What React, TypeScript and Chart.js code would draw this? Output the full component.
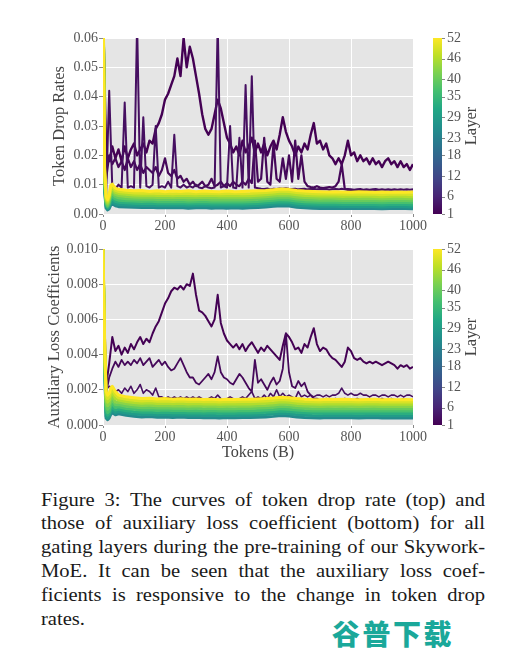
import React, { useEffect, useRef } from "react";
import { Chart, registerables } from "chart.js";

Chart.register(...registerables);
Chart.defaults.font.family = "'Liberation Serif', 'Times New Roman', serif";

// ---------- shared x positions (tokens, B) ----------
const tokens10 = [
  0,
  10, 20, 30, 40, 50, 60, 70, 80, 90, 100,
  110, 120, 130, 140, 150, 160, 170, 180, 190, 200,
  210, 220, 230, 240, 250, 260, 270, 280, 290, 300,
  310, 320, 330, 340, 350, 360, 370, 380, 390, 400,
  410, 420, 430, 440, 450, 460, 470, 480, 490, 500,
  510, 520, 530, 540, 550, 560, 570, 580, 590, 600,
  610, 620, 630, 640, 650, 660, 670, 680, 690, 700,
  710, 720, 730, 740, 750, 760, 770, 780, 790, 800,
  810, 820, 830, 840, 850, 860, 870, 880, 890, 900,
  910, 920, 930, 940, 950, 960, 970, 980, 990, 1000,
];

const bandTokens = [
  0, 5, 10, 15, 20, 25, 30, 40, 50,
  75, 100, 125, 150, 175, 200, 225, 250, 275, 300,
  325, 350, 375, 400, 425, 450, 475, 500, 525, 550,
  575, 600, 625, 650, 675, 700, 725, 750, 775, 800,
  825, 850, 875, 900, 925, 950, 975, 1000,
];

const xTicks = [0, 200, 400, 600, 800, 1000];
const colorbarTicks = [1, 6, 12, 18, 23, 29, 35, 40, 46, 52];
const bandLayers = [52, 49, 46, 43, 40, 37, 33, 29, 25];

// ---------- token drop rate (top) ----------
const dropL1 = [
  0.07,
  0.021, 0.018, 0.023, 0.019, 0.022, 0.018, 0.023, 0.019, 0.022, 0.024,
  0.020, 0.022, 0.024, 0.021, 0.025, 0.024, 0.029, 0.031, 0.034, 0.039,
  0.041, 0.044, 0.047, 0.053, 0.047, 0.060, 0.050, 0.057, 0.053, 0.047,
  0.041, 0.034, 0.029, 0.027, 0.029, 0.034, 0.039, 0.036, 0.031, 0.026,
  0.024, 0.021, 0.023, 0.020, 0.025, 0.021, 0.023, 0.026, 0.021, 0.024,
  0.021, 0.024, 0.020, 0.023, 0.025, 0.022, 0.027, 0.033, 0.028, 0.025,
  0.023, 0.020, 0.023, 0.021, 0.024, 0.022, 0.027, 0.031, 0.024, 0.025,
  0.022, 0.024, 0.020, 0.019, 0.017, 0.019, 0.017, 0.020, 0.025, 0.020,
  0.021, 0.018, 0.020, 0.018, 0.019, 0.017, 0.019, 0.017, 0.018, 0.016,
  0.018, 0.019, 0.017, 0.018, 0.016, 0.018, 0.016, 0.017, 0.015, 0.017,
];

const dropL2 = [
  0.07,
  0.012, 0.020, 0.017, 0.019, 0.016, 0.018, 0.015, 0.019, 0.016, 0.018,
  0.015, 0.017, 0.014, 0.016, 0.015, 0.014, 0.016, 0.013, 0.015, 0.019,
  0.014, 0.013, 0.015, 0.012, 0.013, 0.011, 0.012, 0.010, 0.011, 0.0095,
  0.010, 0.011, 0.0095, 0.010, 0.012, 0.0095, 0.010, 0.011, 0.0095, 0.0105,
  0.0095, 0.011, 0.010, 0.0095, 0.011, 0.010, 0.012, 0.0105, 0.025, 0.011,
  0.012, 0.026, 0.011, 0.010, 0.024, 0.012, 0.011, 0.019, 0.012, 0.020,
  0.011, 0.025, 0.012, 0.020, 0.011, 0.0095, 0.0092, 0.009, 0.0095, 0.009,
  0.0088, 0.009, 0.0092, 0.009, 0.0095, 0.011, 0.017, 0.0085, 0.0082, 0.0080,
  0.0079, 0.0078, 0.0079, 0.0078, 0.0077, 0.0078, 0.0077, 0.0078, 0.0077, 0.0076,
  0.0077, 0.0076, 0.0077, 0.0076, 0.0077, 0.0076, 0.0075, 0.0076, 0.0075, 0.0076,
];

const dropL3 = [
  0.07,
  0.006, 0.042, 0.009, 0.0085, 0.010, 0.009, 0.038, 0.009, 0.0095, 0.009,
  0.065, 0.009, 0.033, 0.0095, 0.009, 0.010, 0.030, 0.009, 0.0095, 0.009,
  0.011, 0.009, 0.027, 0.0095, 0.009, 0.010, 0.009, 0.0095, 0.009, 0.010,
  0.009, 0.0088, 0.0095, 0.009, 0.0088, 0.009, 0.065, 0.009, 0.0095, 0.009,
  0.030, 0.009, 0.0088, 0.026, 0.009, 0.044, 0.009, 0.047, 0.009, 0.0088,
  0.0086, 0.0085, 0.0087, 0.0084, 0.0086, 0.0085, 0.0087, 0.0086, 0.0088, 0.0086,
  0.0085, 0.0086, 0.0084, 0.0085, 0.0086, 0.0084, 0.0085, 0.0086, 0.0084, 0.0085,
  0.0084, 0.0085, 0.0083, 0.0084, 0.0085, 0.0084, 0.0086, 0.0084, 0.0085, 0.0084,
  0.0083, 0.0084, 0.0085, 0.0083, 0.0084, 0.0083, 0.0084, 0.0085, 0.0083, 0.0084,
  0.0083, 0.0084, 0.0083, 0.0084, 0.0083, 0.0084, 0.0083, 0.0084, 0.0083, 0.0084,
];

const dropB52 = [
  0.08, 0.016, 0.006, 0.005, 0.0065, 0.0098, 0.0102, 0.0088, 0.0084,
  0.0081, 0.0079, 0.0080, 0.0077, 0.0079, 0.0076, 0.0078, 0.0077, 0.0079, 0.0076,
  0.0078, 0.0077, 0.0076, 0.0078, 0.0076, 0.0077, 0.0078, 0.0079, 0.0080, 0.0083,
  0.0085, 0.0084, 0.0080, 0.0078, 0.0077, 0.0076, 0.0075, 0.0076, 0.0075, 0.0074,
  0.0076, 0.0075, 0.0074, 0.0075, 0.0074, 0.0075, 0.0074, 0.0075,
];
const dropB49 = [
  0.08, 0.015, 0.0055, 0.0045, 0.006, 0.009, 0.0094, 0.0081, 0.0077,
  0.0074, 0.0072, 0.0071, 0.0072, 0.0070, 0.0071, 0.0069, 0.0071, 0.0070, 0.0069,
  0.0071, 0.0070, 0.0069, 0.0070, 0.0071, 0.0069, 0.0070, 0.0072, 0.0073, 0.0075,
  0.0078, 0.0077, 0.0073, 0.0071, 0.0069, 0.0068, 0.0069, 0.0068, 0.0067, 0.0068,
  0.0067, 0.0068, 0.0067, 0.0066, 0.0067, 0.0068, 0.0067, 0.0066,
];
const dropB46 = [
  0.08, 0.014, 0.005, 0.004, 0.0054, 0.0082, 0.0086, 0.0074, 0.0070,
  0.0067, 0.0065, 0.0064, 0.0065, 0.0063, 0.0064, 0.0062, 0.0064, 0.0063, 0.0062,
  0.0063, 0.0064, 0.0062, 0.0063, 0.0062, 0.0063, 0.0062, 0.0064, 0.0066, 0.0068,
  0.0070, 0.0069, 0.0066, 0.0063, 0.0062, 0.0061, 0.0062, 0.0061, 0.0060, 0.0061,
  0.0060, 0.0061, 0.0060, 0.0059, 0.0060, 0.0061, 0.0060, 0.0059,
];
const dropB43 = [
  0.08, 0.013, 0.0045, 0.0035, 0.0048, 0.0074, 0.0078, 0.0067, 0.0063,
  0.0060, 0.0058, 0.0057, 0.0058, 0.0056, 0.0057, 0.0056, 0.0057, 0.0055, 0.0056,
  0.0057, 0.0055, 0.0056, 0.0055, 0.0056, 0.0055, 0.0056, 0.0057, 0.0059, 0.0061,
  0.0063, 0.0062, 0.0058, 0.0056, 0.0055, 0.0054, 0.0055, 0.0054, 0.0053, 0.0054,
  0.0053, 0.0054, 0.0053, 0.0052, 0.0053, 0.0054, 0.0053, 0.0052,
];
const dropB40 = [
  0.08, 0.012, 0.004, 0.003, 0.0042, 0.0065, 0.0069, 0.0059, 0.0055,
  0.0052, 0.0051, 0.0050, 0.0051, 0.0049, 0.0050, 0.0049, 0.0050, 0.0048, 0.0049,
  0.0050, 0.0048, 0.0049, 0.0048, 0.0049, 0.0048, 0.0049, 0.0050, 0.0052, 0.0054,
  0.0056, 0.0055, 0.0051, 0.0049, 0.0048, 0.0047, 0.0048, 0.0047, 0.0046, 0.0047,
  0.0046, 0.0047, 0.0046, 0.0045, 0.0046, 0.0047, 0.0046, 0.0045,
];
const dropB37 = [
  0.08, 0.011, 0.0035, 0.0026, 0.0036, 0.0056, 0.0060, 0.0051, 0.0047,
  0.0045, 0.0044, 0.0043, 0.0044, 0.0042, 0.0043, 0.0042, 0.0043, 0.0041, 0.0042,
  0.0043, 0.0041, 0.0042, 0.0041, 0.0042, 0.0041, 0.0042, 0.0043, 0.0045, 0.0047,
  0.0049, 0.0048, 0.0044, 0.0042, 0.0041, 0.0040, 0.0041, 0.0040, 0.0039, 0.0040,
  0.0039, 0.0040, 0.0039, 0.0038, 0.0039, 0.0040, 0.0039, 0.0038,
];
const dropB33 = [
  0.08, 0.010, 0.003, 0.0022, 0.0030, 0.0047, 0.0051, 0.0043, 0.0040,
  0.0038, 0.0037, 0.0036, 0.0037, 0.0035, 0.0036, 0.0035, 0.0036, 0.0034, 0.0035,
  0.0036, 0.0034, 0.0035, 0.0034, 0.0035, 0.0034, 0.0035, 0.0036, 0.0038, 0.0040,
  0.0042, 0.0041, 0.0037, 0.0035, 0.0034, 0.0033, 0.0034, 0.0033, 0.0032, 0.0033,
  0.0032, 0.0033, 0.0032, 0.0031, 0.0032, 0.0033, 0.0032, 0.0031,
];
const dropB29 = [
  0.08, 0.009, 0.0025, 0.0018, 0.0024, 0.0038, 0.0042, 0.0035, 0.0032,
  0.0031, 0.0030, 0.0029, 0.0030, 0.0028, 0.0029, 0.0028, 0.0029, 0.0027, 0.0028,
  0.0029, 0.0027, 0.0028, 0.0027, 0.0028, 0.0027, 0.0028, 0.0029, 0.0031, 0.0033,
  0.0035, 0.0034, 0.0030, 0.0028, 0.0027, 0.0026, 0.0027, 0.0026, 0.0025, 0.0026,
  0.0025, 0.0026, 0.0025, 0.0024, 0.0025, 0.0026, 0.0025, 0.0024,
];
const dropB25 = [
  0.08, 0.008, 0.002, 0.0014, 0.0018, 0.0030, 0.0034, 0.0028, 0.0025,
  0.0024, 0.0023, 0.0022, 0.0023, 0.0021, 0.0022, 0.0021, 0.0022, 0.0020, 0.0021,
  0.0022, 0.0020, 0.0021, 0.0020, 0.0021, 0.0020, 0.0021, 0.0022, 0.0024, 0.0026,
  0.0028, 0.0027, 0.0023, 0.0021, 0.0020, 0.0019, 0.0020, 0.0019, 0.0019, 0.0020,
  0.0019, 0.0020, 0.0019, 0.0018, 0.0019, 0.0020, 0.0019, 0.0018,
];

// ---------- auxiliary loss coefficient (bottom) ----------
const auxL1 = [
  0.0100,
  0.0022, 0.0035, 0.0050, 0.0042, 0.0045, 0.0040, 0.0044, 0.0041, 0.0046, 0.0043,
  0.0047, 0.0050, 0.0046, 0.0049, 0.0047, 0.0052, 0.0056, 0.0059, 0.0064, 0.0069,
  0.0072, 0.0076, 0.0078, 0.0077, 0.0079, 0.0077, 0.0080, 0.0079, 0.0086, 0.0074,
  0.0065, 0.0064, 0.0062, 0.0059, 0.0056, 0.0060, 0.0074, 0.0058, 0.0052, 0.0048,
  0.0046, 0.0044, 0.0046, 0.0043, 0.0046, 0.0042, 0.0045, 0.0047, 0.0044, 0.0041,
  0.0044, 0.0042, 0.0045, 0.0043, 0.0041, 0.0039, 0.0037, 0.0045, 0.0052, 0.0050,
  0.0047, 0.0043, 0.0044, 0.0041, 0.0046, 0.0044, 0.0050, 0.0055, 0.0046, 0.0042,
  0.0044, 0.0043, 0.0040, 0.0038, 0.0037, 0.0035, 0.0033, 0.0036, 0.0044, 0.0042,
  0.0038, 0.0037, 0.0038, 0.0036, 0.0035, 0.0036, 0.0035, 0.0036, 0.0035, 0.0034,
  0.0035, 0.0036, 0.0035, 0.0034, 0.0032, 0.0034, 0.0033, 0.0034, 0.0032, 0.0033,
];

const auxL2 = [
  0.0100,
  0.0018, 0.0027, 0.0032, 0.0036, 0.0033, 0.0037, 0.0034, 0.0036, 0.0034, 0.0037,
  0.0035, 0.0038, 0.0034, 0.0036, 0.0038, 0.0033, 0.0035, 0.0037, 0.0034, 0.0036,
  0.0033, 0.0031, 0.0032, 0.0035, 0.0038, 0.0034, 0.0030, 0.0027, 0.0027, 0.0024,
  0.0023, 0.0025, 0.0027, 0.0029, 0.0026, 0.0030, 0.0039, 0.0030, 0.0027, 0.0026,
  0.0024, 0.0023, 0.0026, 0.0029, 0.0027, 0.0024, 0.0021, 0.0019, 0.0037, 0.0024,
  0.0026, 0.0023, 0.0020, 0.0024, 0.0027, 0.0023, 0.0025, 0.0032, 0.0052, 0.0030,
  0.0022, 0.0021, 0.0025, 0.0022, 0.0024, 0.0019, 0.0017, 0.0015, 0.0015, 0.0014,
  0.0014, 0.0015, 0.0014, 0.0014, 0.0015, 0.0014, 0.0014, 0.0015, 0.0014, 0.0014,
  0.0014, 0.0015, 0.0014, 0.0014, 0.0014, 0.0015, 0.0014, 0.0014, 0.0014, 0.0015,
  0.0014, 0.0014, 0.0015, 0.0014, 0.0014, 0.0014, 0.0015, 0.0014, 0.0014, 0.0014,
];

const auxL3 = [
  0.0100,
  0.0020, 0.0022, 0.0021, 0.0019, 0.0020, 0.0018, 0.0021, 0.0019, 0.0022, 0.0018,
  0.0020, 0.0023, 0.0018, 0.0020, 0.0019, 0.0017, 0.0021, 0.0016, 0.0016, 0.0015,
  0.0016, 0.0015, 0.0016, 0.0015, 0.0016, 0.0015, 0.0016, 0.0015, 0.0016, 0.0015,
  0.0016, 0.0015, 0.0014, 0.0015, 0.0016, 0.0015, 0.0017, 0.0015, 0.0014, 0.0015,
  0.0016, 0.0015, 0.0014, 0.0015, 0.0016, 0.0015, 0.0017, 0.0019, 0.0015, 0.0016,
  0.0015, 0.0017, 0.0015, 0.0018, 0.0016, 0.0020, 0.0016, 0.0018, 0.0016, 0.0017,
  0.0016, 0.0015, 0.0019, 0.0016, 0.0017, 0.0016, 0.0017, 0.0016, 0.0017, 0.0017,
  0.0016, 0.0017, 0.0016, 0.0017, 0.0017, 0.0018, 0.0021, 0.0018, 0.0017, 0.0018,
  0.0017, 0.0017, 0.0018, 0.0017, 0.0017, 0.0016, 0.0017, 0.0017, 0.0016, 0.0017,
  0.0017, 0.0016, 0.0017, 0.0017, 0.0016, 0.0017, 0.0016, 0.0017, 0.0017, 0.0016,
];

const auxB52 = [
  0.0100, 0.0050, 0.0019, 0.0017, 0.0018, 0.0021, 0.0022, 0.0019, 0.0017,
  0.00160, 0.00155, 0.00150, 0.00152, 0.00148, 0.00150, 0.00147, 0.00149, 0.00146, 0.00148,
  0.00145, 0.00147, 0.00144, 0.00146, 0.00145, 0.00147, 0.00146, 0.00148, 0.00150, 0.00153,
  0.00158, 0.00155, 0.00150, 0.00147, 0.00145, 0.00144, 0.00146, 0.00145, 0.00146, 0.00145,
  0.00144, 0.00145, 0.00146, 0.00144, 0.00145, 0.00144, 0.00145, 0.00144,
];
const auxB49 = [
  0.0100, 0.0048, 0.0017, 0.0015, 0.0016, 0.0019, 0.0020, 0.0017, 0.00155,
  0.00146, 0.00141, 0.00137, 0.00139, 0.00135, 0.00137, 0.00134, 0.00136, 0.00133, 0.00135,
  0.00132, 0.00134, 0.00131, 0.00133, 0.00132, 0.00134, 0.00133, 0.00135, 0.00137, 0.00140,
  0.00145, 0.00142, 0.00137, 0.00134, 0.00132, 0.00131, 0.00133, 0.00132, 0.00133, 0.00132,
  0.00131, 0.00132, 0.00133, 0.00131, 0.00132, 0.00131, 0.00132, 0.00131,
];
const auxB46 = [
  0.0100, 0.0046, 0.0015, 0.0013, 0.0014, 0.0017, 0.0018, 0.0015, 0.00142,
  0.00133, 0.00128, 0.00124, 0.00126, 0.00122, 0.00124, 0.00121, 0.00123, 0.00120, 0.00122,
  0.00119, 0.00121, 0.00118, 0.00120, 0.00119, 0.00121, 0.00120, 0.00122, 0.00124, 0.00127,
  0.00132, 0.00129, 0.00124, 0.00121, 0.00119, 0.00118, 0.00120, 0.00119, 0.00120, 0.00119,
  0.00118, 0.00119, 0.00120, 0.00118, 0.00119, 0.00118, 0.00119, 0.00118,
];
const auxB43 = [
  0.0100, 0.0044, 0.0013, 0.0011, 0.0012, 0.0015, 0.0016, 0.0013, 0.00129,
  0.00120, 0.00115, 0.00111, 0.00113, 0.00109, 0.00111, 0.00108, 0.00110, 0.00107, 0.00109,
  0.00106, 0.00108, 0.00105, 0.00107, 0.00106, 0.00108, 0.00107, 0.00109, 0.00111, 0.00114,
  0.00119, 0.00116, 0.00111, 0.00108, 0.00106, 0.00105, 0.00107, 0.00106, 0.00107, 0.00106,
  0.00105, 0.00106, 0.00107, 0.00105, 0.00106, 0.00105, 0.00106, 0.00105,
];
const auxB40 = [
  0.0100, 0.0042, 0.0011, 0.0009, 0.0010, 0.0013, 0.0014, 0.00115, 0.00116,
  0.00107, 0.00102, 0.00098, 0.00100, 0.00096, 0.00098, 0.00095, 0.00097, 0.00094, 0.00096,
  0.00093, 0.00095, 0.00092, 0.00094, 0.00093, 0.00095, 0.00094, 0.00096, 0.00098, 0.00101,
  0.00106, 0.00103, 0.00098, 0.00095, 0.00093, 0.00092, 0.00094, 0.00093, 0.00094, 0.00093,
  0.00092, 0.00093, 0.00094, 0.00092, 0.00093, 0.00092, 0.00093, 0.00092,
];
const auxB37 = [
  0.0100, 0.0040, 0.0009, 0.0007, 0.0008, 0.0011, 0.0012, 0.0010, 0.00103,
  0.00094, 0.00089, 0.00085, 0.00087, 0.00083, 0.00085, 0.00082, 0.00084, 0.00081, 0.00083,
  0.00080, 0.00082, 0.00079, 0.00081, 0.00080, 0.00082, 0.00081, 0.00083, 0.00085, 0.00088,
  0.00093, 0.00090, 0.00085, 0.00082, 0.00080, 0.00079, 0.00081, 0.00080, 0.00081, 0.00080,
  0.00079, 0.00080, 0.00081, 0.00079, 0.00080, 0.00079, 0.00080, 0.00079,
];
const auxB33 = [
  0.0100, 0.0038, 0.0007, 0.00055, 0.00065, 0.0009, 0.0010, 0.00085, 0.0009,
  0.00081, 0.00076, 0.00072, 0.00074, 0.00070, 0.00072, 0.00069, 0.00071, 0.00068, 0.00070,
  0.00067, 0.00069, 0.00066, 0.00068, 0.00067, 0.00069, 0.00068, 0.00070, 0.00072, 0.00075,
  0.00080, 0.00077, 0.00072, 0.00069, 0.00067, 0.00066, 0.00068, 0.00067, 0.00068, 0.00067,
  0.00066, 0.00067, 0.00068, 0.00066, 0.00067, 0.00066, 0.00067, 0.00066,
];
const auxB29 = [
  0.0100, 0.0036, 0.0005, 0.0004, 0.0005, 0.00075, 0.00085, 0.0007, 0.00077,
  0.00068, 0.00063, 0.00059, 0.00061, 0.00057, 0.00059, 0.00056, 0.00058, 0.00055, 0.00057,
  0.00054, 0.00056, 0.00053, 0.00055, 0.00054, 0.00056, 0.00055, 0.00057, 0.00059, 0.00062,
  0.00067, 0.00064, 0.00059, 0.00056, 0.00054, 0.00053, 0.00055, 0.00054, 0.00055, 0.00054,
  0.00053, 0.00054, 0.00055, 0.00053, 0.00054, 0.00053, 0.00054, 0.00053,
];
const auxB25 = [
  0.0100, 0.0034, 0.0004, 0.0003, 0.0004, 0.0006, 0.0007, 0.00058, 0.00064,
  0.00055, 0.00050, 0.00046, 0.00048, 0.00044, 0.00046, 0.00043, 0.00045, 0.00042, 0.00044,
  0.00041, 0.00043, 0.00040, 0.00042, 0.00041, 0.00043, 0.00042, 0.00044, 0.00046, 0.00049,
  0.00054, 0.00051, 0.00046, 0.00043, 0.00041, 0.00040, 0.00042, 0.00041, 0.00042, 0.00041,
  0.00040, 0.00041, 0.00042, 0.00040, 0.00041, 0.00040, 0.00041, 0.00040,
];

const dropBands = [dropB52, dropB49, dropB46, dropB43, dropB40, dropB37, dropB33, dropB29, dropB25];
const auxBands = [auxB52, auxB49, auxB46, auxB43, auxB40, auxB37, auxB33, auxB29, auxB25];

// ---------- styling ----------
const VIRIDIS = [
  "#440154", "#482475", "#414487", "#355f8d", "#2a788e", "#21918c",
  "#22a884", "#44bf70", "#7ad151", "#bddf26", "#fde725",
];
const PANEL_BG = "#e5e5e5";
const TICK_TEXT = "#555555";
const TICK_MARK = "#888888";
const TITLE_TEXT = "#444444";
const SERIF = "'Liberation Serif', 'Times New Roman', serif";

function hexToRgb(h: string) {
  const n = parseInt(h.slice(1), 16);
  return [(n >> 16) & 255, (n >> 8) & 255, n & 255];
}
function viridis(t: number) {
  const n = VIRIDIS.length - 1;
  const p = Math.min(Math.max(t, 0), 1) * n;
  const i = Math.min(Math.floor(p), n - 1);
  const f = p - i;
  const a = hexToRgb(VIRIDIS[i]);
  const b = hexToRgb(VIRIDIS[i + 1]);
  const c = a.map((v, k) => Math.round(v + (b[k] - v) * f));
  return `rgb(${c[0]},${c[1]},${c[2]})`;
}
const layerColor = (layer: number) => viridis((layer - 1) / 51);

function series(layer: number, xs: number[], ys: number[], width: number) {
  return {
    label: `Layer ${layer}`,
    data: xs.map((x, i) => ({ x, y: ys[i] })),
    borderColor: layerColor(layer),
    backgroundColor: layerColor(layer),
    borderWidth: width,
    pointRadius: 0,
    tension: 0,
    fill: false,
    borderJoinStyle: "round",
    order: 100 - layer,
  };
}

const colorbarPlugin = {
  id: "colorbarPanel",
  beforeDraw(chart: any) {
    const { ctx, chartArea: a } = chart;
    ctx.save();
    ctx.fillStyle = PANEL_BG;
    ctx.fillRect(a.left, a.top, a.right - a.left, a.bottom - a.top);
    ctx.restore();
  },
  afterDraw(chart: any) {
    const cb = chart.scales.cb;
    const ctx = chart.ctx;
    const x0 = cb.left + 20;
    const w = 9;
    ctx.save();
    const g = ctx.createLinearGradient(0, cb.bottom, 0, cb.top);
    VIRIDIS.forEach((c, i) => g.addColorStop(i / (VIRIDIS.length - 1), c));
    ctx.fillStyle = g;
    ctx.fillRect(x0, cb.top, w, cb.bottom - cb.top);
    ctx.strokeStyle = TICK_MARK;
    ctx.lineWidth = 1;
    colorbarTicks.forEach((v) => {
      const y = Math.round(cb.getPixelForValue(v)) + 0.5;
      ctx.beginPath();
      ctx.moveTo(x0 + w, y);
      ctx.lineTo(x0 + w + 3, y);
      ctx.stroke();
    });
    ctx.translate(cb.left + 59, (cb.top + cb.bottom) / 2);
    ctx.rotate(-Math.PI / 2);
    ctx.font = `16.5px ${SERIF}`;
    ctx.fillStyle = TITLE_TEXT;
    ctx.textAlign = "center";
    ctx.textBaseline = "middle";
    ctx.fillText("Layer", 0, 0);
    ctx.restore();
  },
};

type PanelProps = {
  top: number;
  height: number;
  padTop: number;
  xAxisHeight: number;
  yMax: number;
  yStep: number;
  yDecimals: number;
  yTitle: string;
  yTitlePad: number;
  xTitle?: string;
  datasets: any[];
};

function Panel(p: PanelProps) {
  const ref = useRef<HTMLCanvasElement>(null);
  useEffect(() => {
    const chart = new Chart(ref.current as HTMLCanvasElement, {
      type: "line",
      data: { datasets: p.datasets },
      options: {
        animation: false,
        responsive: false,
        events: [],
        layout: { padding: { top: p.padTop, left: 0, right: 0, bottom: 0 } },
        plugins: { legend: { display: false }, tooltip: { enabled: false } },
        scales: {
          x: {
            type: "linear",
            min: 0,
            max: 1000,
            afterFit: (s: any) => {
              s.height = p.xAxisHeight;
            },
            afterBuildTicks: (s: any) => {
              s.ticks = xTicks.map((value) => ({ value }));
            },
            ticks: {
              callback: (v: any) => String(v),
              color: TICK_TEXT,
              font: { size: 14, family: SERIF },
              padding: 1,
              maxRotation: 0,
              autoSkip: false,
            },
            grid: { color: "#ffffff", lineWidth: 1, tickColor: TICK_MARK, tickLength: 3 },
            border: { display: false },
            title: p.xTitle
              ? {
                  display: true,
                  text: p.xTitle,
                  color: TITLE_TEXT,
                  font: { size: 16.2, family: SERIF },
                  padding: { top: 0, bottom: 8 },
                }
              : { display: false },
          },
          y: {
            type: "linear",
            min: 0,
            max: p.yMax,
            afterFit: (s: any) => {
              s.width = 103;
            },
            ticks: {
              stepSize: p.yStep,
              callback: (v: any) => Number(v).toFixed(p.yDecimals),
              color: TICK_TEXT,
              font: { size: 14, family: SERIF },
              padding: 1,
              autoSkip: false,
            },
            grid: { color: "#ffffff", lineWidth: 1, tickColor: TICK_MARK, tickLength: 4 },
            border: { display: false },
            title: {
              display: true,
              text: p.yTitle,
              color: TITLE_TEXT,
              font: { size: 16.5, family: SERIF },
              padding: { top: p.yTitlePad, bottom: 0 },
            },
          },
          cb: {
            type: "linear",
            axis: "y",
            position: "right",
            min: 1,
            max: 52,
            afterFit: (s: any) => {
              s.width = 98;
            },
            afterBuildTicks: (s: any) => {
              s.ticks = colorbarTicks.map((value) => ({ value }));
            },
            ticks: {
              color: TICK_TEXT,
              font: { size: 14, family: SERIF },
              padding: 0,
              autoSkip: false,
              callback: (v: any) => String(v),
            },
            grid: {
              drawOnChartArea: false,
              drawTicks: true,
              tickLength: 34,
              tickColor: "rgba(0,0,0,0)",
            },
            border: { display: false },
          },
        } as any,
      } as any,
      plugins: [colorbarPlugin],
    });
    return () => chart.destroy();
  }, []);
  return (
    <canvas
      ref={ref}
      width={511}
      height={p.height}
      style={{ position: "absolute", left: 0, top: p.top, width: 511, height: p.height }}
    />
  );
}

const topDatasets = [
  series(1, tokens10, dropL1, 2.4),
  series(2, tokens10, dropL2, 2.2),
  series(3, tokens10, dropL3, 2.0),
  ...bandLayers.map((layer, i) => series(layer, bandTokens, dropBands[i], 3)),
];

const bottomDatasets = [
  series(1, tokens10, auxL1, 2.0),
  series(2, tokens10, auxL2, 1.8),
  series(3, tokens10, auxL3, 1.6),
  ...bandLayers.map((layer, i) => series(layer, bandTokens, auxBands[i], 3)),
];

const captionLines = [
  "Figure 3: The curves of token drop rate (top) and",
  "those of auxiliary loss coefficient (bottom) for all",
  "gating layers during the pre-training of our Skywork-",
  "MoE. It can be seen that the auxiliary loss coef-",
  "ficients is responsive to the change in token drop",
  "rates.",
];

export default function App() {
  const lineW = 410;
  const scale = 444 / lineW;
  return (
    <div style={{ position: "absolute", left: 0, top: 0, width: 511, height: 655, background: "#ffffff", overflow: "hidden" }}>
      <Panel
        top={25}
        height={211}
        padTop={13}
        xAxisHeight={22}
        yMax={0.06}
        yStep={0.01}
        yDecimals={2}
        yTitle="Token Drop Rates"
        yTitlePad={50}
        datasets={topDatasets}
      />
      <Panel
        top={230}
        height={240}
        padTop={19}
        xAxisHeight={45}
        yMax={0.01}
        yStep={0.002}
        yDecimals={3}
        yTitle="Auxiliary Loss Coefficients"
        yTitlePad={45}
        xTitle="Tokens (B)"
        datasets={bottomDatasets}
      />
      <div
        style={{
          position: "absolute",
          left: 41,
          top: 487.7,
          fontFamily: SERIF,
          fontSize: 19,
          lineHeight: "23.8px",
          color: "#1a1a1a",
        }}
      >
        {captionLines.map((line, i) => (
          <div
            key={i}
            style={{
              width: lineW,
              whiteSpace: "nowrap",
              textAlign: "justify",
              textAlignLast: i < captionLines.length - 1 ? "justify" : "left",
              transform: `scaleX(${scale})`,
              transformOrigin: "left center",
            }}
          >
            {line}
          </div>
        ))}
      </div>
      <div
        style={{
          position: "absolute",
          left: 332,
          top: 619,
          fontFamily: "'Noto Sans CJK SC', sans-serif",
          fontWeight: 900,
          fontSize: 28,
          lineHeight: "28px",
          letterSpacing: 2.5,
          color: "#1aa89a",
          whiteSpace: "nowrap",
        }}
      >
        谷普下载
      </div>
    </div>
  );
}
